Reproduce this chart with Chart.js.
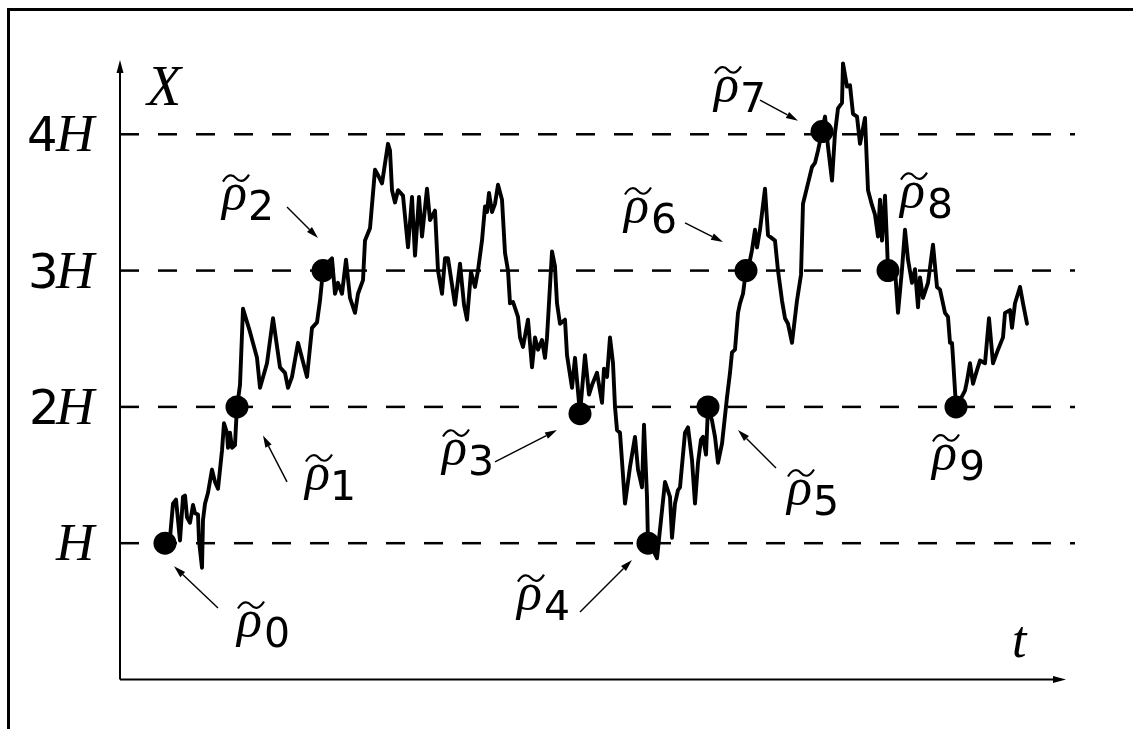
<!DOCTYPE html>
<html>
<head>
<meta charset="utf-8">
<title>Level crossings of a sample path</title>
<script src="https://cdn.jsdelivr.net/npm/chart.js@4.4.0/dist/chart.umd.min.js"></script>
<style>
  html, body { margin: 0; padding: 0; background: #fff; }
  canvas { display: block; }
</style>
</head>
<body>
<canvas id="walk" width="1133" height="729"></canvas>
<script>
// Sample path: time t and level X (in units of H)
const walkT = [
  45, 50, 53, 56, 58, 60, 63, 65, 67, 70,
  73, 75, 78, 79, 82, 83, 85, 88, 92, 95,
  98, 102, 104, 107, 108, 110, 112, 115, 116, 117,
  120, 123, 130, 137, 140, 147, 153, 160, 165, 168,
  172, 178, 187, 192, 197, 200, 203, 208, 212, 215,
  218, 222, 226, 230, 235, 238, 243, 245, 250, 255,
  258, 262, 268, 270, 272, 275, 278, 283, 288, 292,
  295, 299, 302, 307, 310, 315, 318, 322, 325, 328,
  335, 340, 344, 347, 351, 355, 358, 362, 365, 367,
  369, 372, 375, 378, 382, 385, 388, 390, 393, 398,
  400, 403, 408, 412, 415, 418, 422, 425, 427, 432,
  435, 437, 440, 445, 447, 452, 455, 460, 465, 469,
  472, 477, 482, 484, 487, 490, 493, 495, 497, 500,
  505, 510, 515, 518, 522, 524, 527, 528, 533, 537,
  540, 545, 550, 552, 555, 558, 560, 565, 568, 572,
  575, 578, 581, 583, 586, 588, 592, 595, 598, 602,
  607, 610, 612, 615, 618, 620, 623, 626, 629, 632,
  635, 637, 640, 645, 648, 655, 658, 662, 665, 668,
  672, 677, 681, 683, 688, 692, 695, 698, 702, 705,
  708, 712, 715, 718, 722, 723, 727, 730, 733, 737,
  740, 745, 748, 752, 755, 758, 760, 762, 765, 767,
  768, 775, 778, 782, 785, 788, 792, 795, 798, 800,
  803, 808, 813, 817, 820, 825, 828, 830, 832, 833,
  836, 840, 845, 847, 850, 853, 857, 860, 865, 869,
  873, 878, 883, 885, 890, 892, 895, 900, 903, 907
];
const walkX = [
  1.00, 1.04, 1.29, 1.32, 1.17, 1.02, 1.34, 1.35, 1.19, 1.15,
  1.28, 1.22, 1.21, 1.02, 0.82, 1.17, 1.29, 1.37, 1.54, 1.45,
  1.40, 1.68, 1.88, 1.81, 1.70, 1.81, 1.70, 1.72, 1.87, 2.00,
  2.16, 2.72, 2.55, 2.36, 2.14, 2.32, 2.65, 2.29, 2.25, 2.14,
  2.22, 2.47, 2.22, 2.58, 2.62, 2.78, 3.00, 3.06, 3.09, 2.83,
  2.91, 2.83, 3.08, 2.80, 2.69, 2.83, 2.93, 3.22, 3.31, 3.74,
  3.70, 3.64, 3.93, 3.88, 3.59, 3.50, 3.59, 3.55, 3.17, 3.54,
  3.11, 3.54, 3.25, 3.60, 3.37, 3.44, 3.00, 2.83, 3.09, 3.09,
  2.75, 3.05, 2.75, 2.64, 2.99, 2.88, 3.00, 3.22, 3.47, 3.43,
  3.57, 3.43, 3.49, 3.63, 3.52, 3.13, 3.00, 2.76, 2.77, 2.66,
  2.51, 2.44, 2.64, 2.29, 2.51, 2.42, 2.49, 2.36, 2.51, 3.14,
  3.03, 2.76, 2.61, 2.64, 2.38, 2.14, 2.36, 1.95, 2.38, 2.09,
  2.16, 2.25, 2.03, 2.28, 2.22, 2.51, 2.32, 2.00, 1.83, 1.81,
  1.29, 1.56, 1.78, 1.54, 1.41, 1.87, 1.34, 1.00, 0.95, 0.89,
  1.10, 1.45, 1.34, 1.04, 1.29, 1.39, 1.41, 1.81, 1.85, 1.61,
  1.29, 1.59, 1.76, 1.78, 1.65, 2.00, 1.90, 1.78, 1.59, 1.73,
  2.07, 2.25, 2.40, 2.42, 2.69, 2.76, 2.83, 3.00, 3.04, 3.15,
  3.30, 3.17, 3.30, 3.60, 3.26, 3.22, 3.00, 2.78, 2.65, 2.61,
  2.47, 2.78, 2.97, 3.49, 3.64, 3.76, 3.79, 3.88, 4.02, 4.13,
  3.91, 3.66, 4.01, 4.19, 4.23, 4.52, 4.35, 4.36, 4.15, 4.13,
  3.93, 4.12, 3.59, 3.48, 3.41, 3.25, 3.52, 3.22, 3.55, 3.20,
  3.00, 3.01, 2.69, 3.01, 3.30, 3.08, 2.91, 3.01, 2.73, 2.95,
  2.80, 2.91, 3.19, 2.88, 2.86, 2.69, 2.66, 2.47, 2.47, 2.36,
  2.00, 2.05, 2.12, 2.19, 2.32, 2.17, 2.27, 2.34, 2.32, 2.65,
  2.32, 2.42, 2.51, 2.69, 2.71, 2.58, 2.76, 2.88, 2.76, 2.61
];

// Crossing times rho~_k and the path level there
const hitT = [45, 117, 203, 460, 528, 588, 626, 702, 768, 836];
const hitX = [1.00, 2.00, 3.00, 1.95, 1.00, 2.00, 3.00, 4.02, 3.00, 2.00];
const hitNames = ['0', '1', '2', '3', '4', '5', '6', '7', '8', '9'];

// Levels k*H and their multipliers
const levels = [1, 2, 3, 4];
const levelCoef = ['', '2', '3', '4'];

// Axis extents
const tMax = 955;
const xMax = 4.545;
const tArrowTip = 946;

// Where each rho~ label sits (left edge, bottom), in t / X
const labelT = [115, 183, 100, 320, 395, 665, 502, 592, 778, 810];
const labelX = [0.238, 1.317, 3.37, 1.50, 0.436, 1.207, 3.276, 4.164, 3.385, 1.464];

// Pointer arrows (tail -> head) for labels 0..7, in t / X
const arrowFromT = [98, 167, 167, 375, 460, 656, 565, 640];
const arrowFromX = [0.525, 1.45, 3.467, 1.596, 0.495, 1.551, 3.35, 4.25];
const arrowToT   = [54, 143, 198, 437, 512, 618, 603, 678];
const arrowToX   = [0.83, 1.79, 3.24, 1.83, 0.876, 1.83, 3.21, 4.10];

const SERIF_IT = '"Liberation Serif", "DejaVu Serif", serif';
const SANS = '"DejaVu Sans", sans-serif';

function arrow(ctx, x1, y1, x2, y2, len, half, width) {
  const a = Math.atan2(y2 - y1, x2 - x1);
  const bx = x2 - len * Math.cos(a), by = y2 - len * Math.sin(a);
  ctx.lineWidth = width;
  ctx.beginPath();
  ctx.moveTo(x1, y1);
  ctx.lineTo(bx, by);
  ctx.stroke();
  ctx.beginPath();
  ctx.moveTo(x2, y2);
  ctx.lineTo(bx + half * Math.sin(a), by - half * Math.cos(a));
  ctx.lineTo(bx - half * Math.sin(a), by + half * Math.cos(a));
  ctx.closePath();
  ctx.fill();
}

function rhoTilde(ctx, left, bottom, sub) {
  ctx.textAlign = 'left';
  ctx.textBaseline = 'alphabetic';
  ctx.font = 'italic 52px ' + SERIF_IT;
  const m = ctx.measureText('ρ');
  const base = bottom - m.actualBoundingBoxDescent;
  ctx.fillText('ρ', left + m.actualBoundingBoxLeft, base);
  const w = m.actualBoundingBoxLeft + m.actualBoundingBoxRight;
  const top = base - m.actualBoundingBoxAscent;
  // wide tilde accent
  const cx = left + w / 2 + 3, cy = top - 6;
  ctx.lineWidth = 2.2;
  ctx.beginPath();
  ctx.moveTo(cx - 13, cy + 3.5);
  ctx.bezierCurveTo(cx - 8, cy - 5, cx - 3, cy - 3.5, cx, cy);
  ctx.bezierCurveTo(cx + 3, cy + 3.5, cx + 8, cy + 5, cx + 13, cy - 3.5);
  ctx.stroke();
  // subscript
  ctx.font = '41px ' + SANS;
  const d = ctx.measureText(sub);
  ctx.fillText(sub, left + w + 5 + d.actualBoundingBoxLeft, bottom);
}

const decor = {
  id: 'decor',
  beforeDatasetsDraw(chart) {
    const { ctx, scales: { x, y } } = chart;
    ctx.save();
    ctx.strokeStyle = '#000';
    ctx.fillStyle = '#000';
    // outer frame (top and left edges)
    ctx.lineWidth = 3;
    ctx.beginPath();
    ctx.moveTo(8.5, 729);
    ctx.lineTo(8.5, 9.5);
    ctx.lineTo(1133, 9.5);
    ctx.stroke();
    // axes with arrow heads
    const x0 = x.getPixelForValue(0), y0 = y.getPixelForValue(0);
    arrow(ctx, x0, y0, x0, y.getPixelForValue(xMax), 13, 3.5, 2);
    arrow(ctx, x0, y0, x.getPixelForValue(tArrowTip), y0, 13, 3.5, 2);
    ctx.restore();
  },
  afterDatasetsDraw(chart) {
    const { ctx, scales: { x, y } } = chart;
    ctx.save();
    ctx.strokeStyle = '#000';
    ctx.fillStyle = '#000';
    ctx.textBaseline = 'alphabetic';
    ctx.textAlign = 'left';
    // level labels kH
    levels.forEach((k, i) => {
      const py = y.getPixelForValue(k);
      ctx.font = 'italic 53px ' + SERIF_IT;
      const mh = ctx.measureText('H');
      ctx.fillText('H', 97 - mh.actualBoundingBoxRight, py + 17);
      if (levelCoef[i]) {
        ctx.font = '48px ' + SANS;
        const md = ctx.measureText(levelCoef[i]);
        ctx.fillText(levelCoef[i], 55 - md.actualBoundingBoxRight, py + 17);
      }
    });
    // axis names
    ctx.font = 'italic 56px ' + SERIF_IT;
    ctx.fillText('X', x.getPixelForValue(27), y.getPixelForValue(4.215));
    ctx.font = 'italic 52px ' + SERIF_IT;
    ctx.fillText('t', x.getPixelForValue(892), y.getPixelForValue(0.165));
    // crossing labels and pointers
    hitNames.forEach((n, i) => {
      rhoTilde(ctx, x.getPixelForValue(labelT[i]), y.getPixelForValue(labelX[i]), n);
    });
    arrowFromT.forEach((t, i) => {
      arrow(ctx, x.getPixelForValue(t), y.getPixelForValue(arrowFromX[i]),
            x.getPixelForValue(arrowToT[i]), y.getPixelForValue(arrowToX[i]), 12, 3.5, 1.4);
    });
    ctx.restore();
  }
};

const levelSets = levels.map(k => ({
  data: [{ x: 0, y: k }, { x: tMax, y: k }],
  showLine: true,
  borderColor: '#000',
  borderWidth: 2.5,
  borderDash: [19, 19],
  pointRadius: 0,
  order: 3
}));

new Chart(document.getElementById('walk'), {
  type: 'scatter',
  data: {
    datasets: [
      {
        data: hitT.map((t, i) => ({ x: t, y: hitX[i] })),
        showLine: false,
        pointRadius: 11.5,
        pointBackgroundColor: '#000',
        pointBorderWidth: 0,
        order: 0
      },
      {
        data: walkT.map((t, i) => ({ x: t, y: walkX[i] })),
        showLine: true,
        borderColor: '#000',
        borderWidth: 3.9,
        borderJoinStyle: 'round',
        borderCapStyle: 'round',
        pointRadius: 0,
        tension: 0,
        order: 1
      },
      ...levelSets
    ]
  },
  options: {
    responsive: false,
    animation: false,
    devicePixelRatio: 1,
    layout: { padding: { left: 120, right: 58, top: 60, bottom: 49.5 } },
    scales: {
      x: { type: 'linear', min: 0, max: tMax, display: false },
      y: { type: 'linear', min: 0, max: xMax, display: false }
    },
    plugins: { legend: { display: false }, tooltip: { enabled: false } },
    events: []
  },
  plugins: [decor]
});
</script>
</body>
</html>
